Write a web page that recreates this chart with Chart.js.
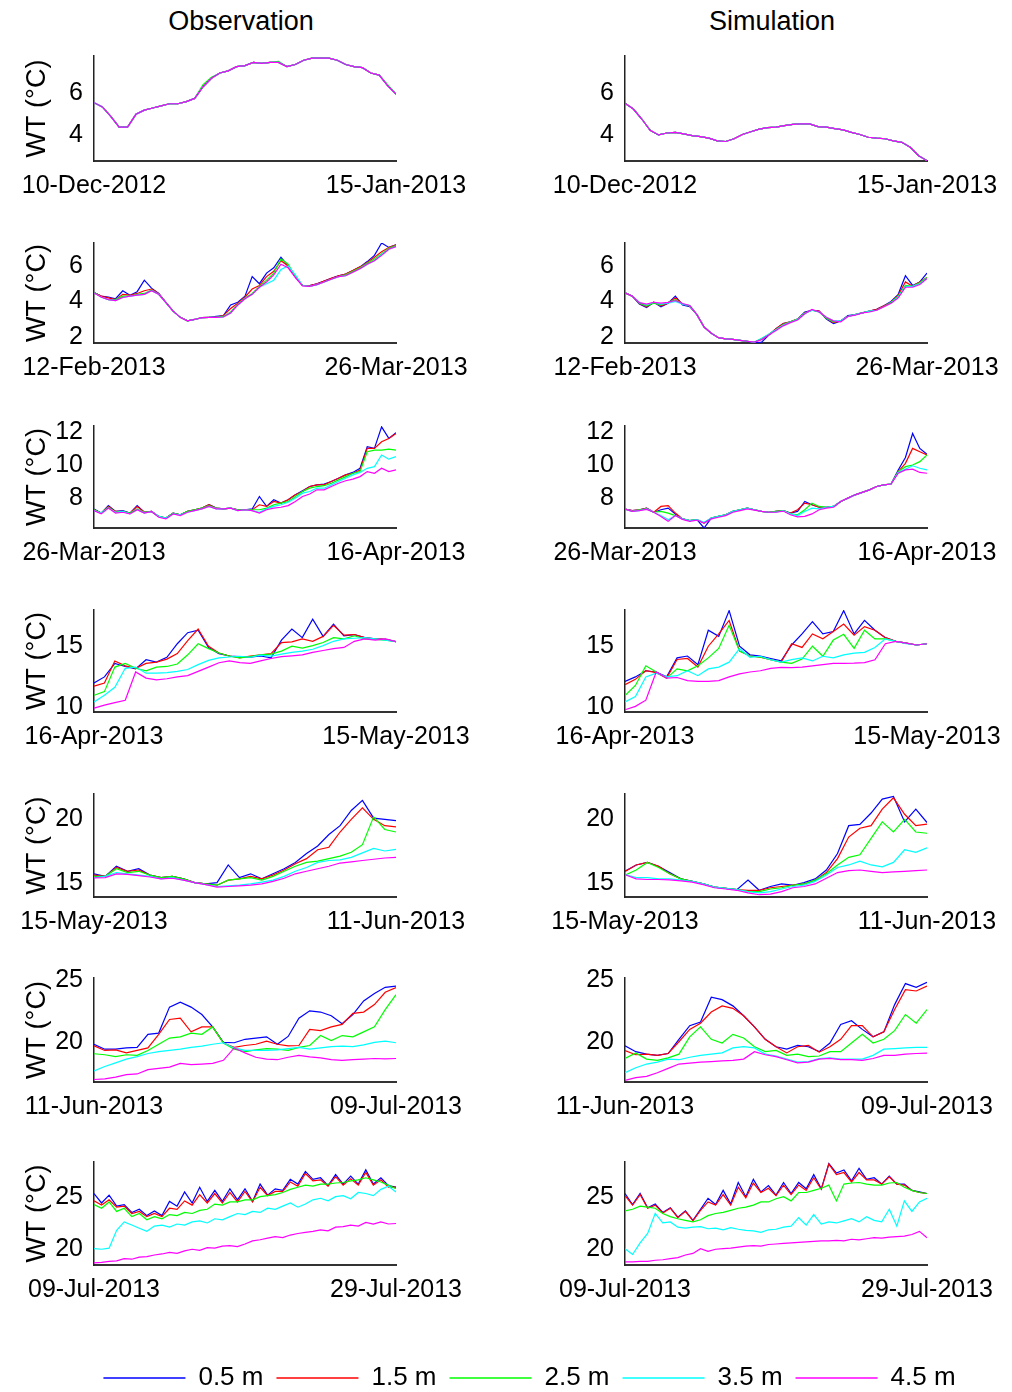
<!DOCTYPE html>
<html>
<head>
<meta charset="utf-8">
<script src="https://cdn.jsdelivr.net/npm/chart.js@4.4.0/dist/chart.umd.min.js"></script>
<style>
  body { margin: 0; background: #fff; width: 1012px; height: 1392px; position: relative; overflow: hidden; }
  .panel { position: absolute; }
  .coltitle { position: absolute; top: 6px; width: 240px; text-align: center; font: 27px 'Liberation Sans', Arial, sans-serif; line-height: 30px; color: #000; }
</style>
</head>
<body>
<div class="coltitle" style="left:121px;">Observation</div>
<div class="coltitle" style="left:652px;">Simulation</div>

<script>
const FONT = "'Liberation Sans', Arial, sans-serif";

// depth series
const depthLabels = ['0.5 m', '1.5 m', '2.5 m', '3.5 m', '4.5 m'];
const depthColors = ['#0000ff', '#ff0000', '#00ff00', '#00ffff', '#ff00ff'];

// x tick labels (first / last day of each row)
const startDates = ['10-Dec-2012', '12-Feb-2013', '26-Mar-2013', '16-Apr-2013', '15-May-2013', '11-Jun-2013', '09-Jul-2013'];
const endDates = ['15-Jan-2013', '26-Mar-2013', '16-Apr-2013', '15-May-2013', '11-Jun-2013', '09-Jul-2013', '29-Jul-2013'];

// y tick labels and axis ranges per row
const yTicks = [[4, 6], [2, 4, 6], [8, 10, 12], [10, 15], [15, 20], [20, 25], [20, 25]];
const yMins = [2.8, 1.65, 6.2, 9.64, 13.87, 16.75, 18.5];
const yMaxs = [7.75, 7.3, 12.35, 17.95, 22.0, 25.15, 28.3];

// ---- row 1 : 10-Dec-2012 .. 15-Jan-2013 (daily) ----
const obsDecJan = [5.55,5.35,4.9,4.4,4.4,5.0,5.2,5.3,5.4,5.5,5.5,5.6,5.75,6.3,6.7,6.95,7.05,7.25,7.3,7.45,7.4,7.45,7.45,7.25,7.35,7.55,7.65,7.65,7.65,7.55,7.35,7.25,7.2,6.95,6.85,6.35,5.95];
const obsDecJan25 = [5.55,5.35,4.9,4.4,4.4,5.0,5.2,5.3,5.4,5.5,5.5,5.6,5.75,6.4,6.75,6.95,7.05,7.25,7.3,7.45,7.4,7.45,7.5,7.25,7.35,7.55,7.65,7.65,7.65,7.55,7.35,7.25,7.2,6.95,6.85,6.4,5.95];
const simDecJan = [5.52,5.25,4.78,4.25,4.03,4.12,4.15,4.08,4.0,3.95,3.88,3.75,3.72,3.85,4.05,4.18,4.3,4.37,4.4,4.47,4.53,4.55,4.55,4.42,4.4,4.33,4.27,4.15,4.05,3.92,3.88,3.85,3.75,3.68,3.45,3.05,2.82];

// ---- row 2 : 12-Feb-2013 .. 26-Mar-2013 (daily) ----
const obsFebMar05 = [4.5,4.3,4.25,4.15,4.6,4.35,4.55,5.2,4.75,4.45,3.95,3.45,3.1,2.9,2.98,3.08,3.1,3.15,3.2,3.8,3.95,4.3,5.4,5.0,5.6,5.9,6.5,6.0,5.4,4.9,4.9,5.0,5.15,5.3,5.45,5.55,5.75,5.95,6.25,6.6,7.3,7.05,7.2];
const obsFebMar15 = [4.5,4.3,4.2,4.1,4.4,4.35,4.45,4.6,4.7,4.45,3.95,3.45,3.1,2.9,2.98,3.08,3.1,3.12,3.2,3.6,3.9,4.25,4.7,4.9,5.4,5.7,6.3,6.0,5.4,4.9,4.9,5.0,5.15,5.3,5.45,5.55,5.75,5.95,6.2,6.5,6.8,7.05,7.2];
const obsFebMar25 = [4.5,4.25,4.1,4.1,4.3,4.3,4.4,4.45,4.65,4.4,3.93,3.45,3.1,2.9,2.98,3.08,3.1,3.1,3.15,3.4,3.85,4.2,4.45,4.85,5.2,5.6,6.4,6.1,5.4,4.9,4.85,4.95,5.1,5.25,5.4,5.5,5.7,5.9,6.15,6.4,6.7,7.0,7.15];
const obsFebMar35 = [4.48,4.25,4.1,4.05,4.22,4.3,4.35,4.4,4.6,4.4,3.93,3.45,3.1,2.9,2.98,3.08,3.1,3.1,3.12,3.35,3.8,4.15,4.4,4.8,5.0,5.2,5.8,6.0,5.5,4.9,4.85,4.95,5.1,5.25,5.4,5.45,5.65,5.85,6.1,6.3,6.65,6.95,7.1];
const obsFebMar45 = [4.48,4.25,4.1,4.05,4.22,4.3,4.35,4.4,4.6,4.4,3.93,3.45,3.1,2.9,2.98,3.08,3.1,3.1,3.12,3.35,3.8,4.15,4.4,4.8,5.1,5.5,6.1,5.9,5.35,4.88,4.85,4.95,5.1,5.25,5.4,5.45,5.65,5.85,6.1,6.3,6.6,6.95,7.1];
const simFebMar05 = [4.48,4.3,3.85,3.65,3.95,3.7,3.9,4.3,3.8,3.7,3.25,2.55,2.2,1.95,1.88,1.85,1.8,1.75,1.65,1.7,2.1,2.45,2.75,2.85,3.0,3.4,3.5,3.45,3.0,2.75,2.9,3.2,3.25,3.35,3.45,3.55,3.75,4.0,4.4,5.45,4.9,5.1,5.6];
const simFebMar15 = [4.48,4.3,3.9,3.7,3.95,3.75,3.9,4.2,3.85,3.75,3.25,2.55,2.2,1.95,1.88,1.85,1.8,1.75,1.7,1.85,2.1,2.45,2.75,2.85,3.0,3.35,3.5,3.45,3.05,2.8,2.9,3.15,3.25,3.35,3.45,3.55,3.75,3.95,4.35,5.1,4.85,5.1,5.35];
const simFebMar25 = [4.48,4.3,3.9,3.75,3.9,3.8,3.95,4.1,3.85,3.75,3.25,2.55,2.2,1.95,1.88,1.85,1.8,1.75,1.7,1.9,2.15,2.4,2.7,2.85,3.0,3.35,3.5,3.4,3.05,2.85,2.9,3.15,3.25,3.35,3.45,3.5,3.7,3.95,4.3,4.9,4.85,5.05,5.35];
const simFebMar35 = [4.48,4.3,3.95,3.8,3.95,3.85,3.9,4.0,3.85,3.77,3.25,2.55,2.2,1.95,1.88,1.85,1.8,1.75,1.7,1.9,2.15,2.4,2.65,2.82,2.98,3.3,3.5,3.4,3.1,2.9,2.9,3.15,3.25,3.35,3.45,3.5,3.7,3.9,4.25,4.85,4.85,5.0,5.3];
const simFebMar45 = [4.48,4.3,3.93,3.85,3.95,3.9,3.95,4.05,3.88,3.77,3.25,2.55,2.2,1.95,1.88,1.85,1.8,1.75,1.7,1.85,2.1,2.35,2.62,2.8,2.95,3.3,3.55,3.4,3.1,2.9,2.85,3.15,3.22,3.35,3.4,3.5,3.7,3.9,4.2,4.8,4.8,4.95,5.3];

// ---- row 3 : 26-Mar-2013 .. 16-Apr-2013 (half-daily) ----
const obsMarApr05 = [7.35,7.1,7.55,7.2,7.25,7.1,7.55,7.15,7.2,6.9,6.8,7.1,7.0,7.2,7.3,7.4,7.6,7.4,7.35,7.4,7.3,7.3,7.35,8.1,7.5,7.9,7.7,7.9,8.2,8.45,8.7,8.8,8.85,9.0,9.2,9.4,9.55,9.8,11.1,11.0,12.3,11.6,11.95];
const obsMarApr15 = [7.3,7.1,7.5,7.2,7.2,7.1,7.5,7.15,7.2,6.9,6.8,7.1,7.0,7.2,7.3,7.4,7.6,7.4,7.35,7.4,7.3,7.3,7.3,7.6,7.5,7.8,7.7,7.9,8.2,8.4,8.7,8.8,8.8,9.0,9.2,9.4,9.5,9.7,11.0,11.0,11.4,11.6,11.9];
const obsMarApr25 = [7.3,7.1,7.45,7.15,7.2,7.1,7.35,7.15,7.2,6.9,6.8,7.1,7.0,7.2,7.3,7.4,7.55,7.4,7.35,7.4,7.3,7.3,7.3,7.3,7.4,7.6,7.7,7.8,8.1,8.4,8.6,8.7,8.75,8.9,9.1,9.3,9.5,9.6,10.8,10.9,10.9,10.95,10.9];
const obsMarApr35 = [7.25,7.1,7.4,7.15,7.2,7.05,7.3,7.1,7.2,6.9,6.8,7.05,7.0,7.15,7.25,7.35,7.5,7.35,7.35,7.4,7.25,7.3,7.25,7.15,7.35,7.5,7.6,7.75,8.0,8.3,8.4,8.6,8.6,8.8,9.0,9.2,9.4,9.55,9.8,9.9,10.6,10.35,10.5];
const obsMarApr45 = [7.25,7.05,7.4,7.1,7.15,7.05,7.3,7.1,7.2,6.85,6.75,7.05,6.95,7.15,7.25,7.35,7.5,7.35,7.35,7.4,7.25,7.3,7.25,7.1,7.3,7.4,7.45,7.55,7.8,8.1,8.25,8.5,8.5,8.7,8.9,9.05,9.15,9.3,9.6,9.5,9.8,9.6,9.7];
const simMarApr05 = [7.34,7.25,7.3,7.4,7.15,7.3,7.4,7.05,6.75,6.65,6.7,6.2,6.8,6.9,7.0,7.2,7.3,7.4,7.3,7.2,7.15,7.2,7.25,7.1,7.2,7.8,7.6,7.45,7.45,7.5,7.8,8.0,8.2,8.35,8.5,8.7,8.8,8.85,9.7,10.45,11.9,11.0,10.65];
const simMarApr15 = [7.34,7.25,7.3,7.4,7.15,7.5,7.55,7.1,6.75,6.65,6.7,6.5,6.8,6.9,7.0,7.2,7.3,7.4,7.3,7.2,7.15,7.2,7.25,7.1,7.3,7.7,7.6,7.45,7.45,7.5,7.8,8.0,8.2,8.35,8.5,8.7,8.8,8.85,9.6,10.1,11.0,10.8,10.6];
const simMarApr25 = [7.34,7.2,7.3,7.35,7.15,7.2,7.1,6.95,6.75,6.65,6.7,6.5,6.8,6.9,7.0,7.2,7.3,7.4,7.3,7.2,7.15,7.2,7.25,7.05,7.0,7.3,7.7,7.5,7.45,7.5,7.8,8.0,8.2,8.35,8.5,8.7,8.8,8.85,9.6,9.9,10.0,10.2,10.6];
const simMarApr35 = [7.34,7.2,7.25,7.35,7.15,6.95,6.7,6.95,6.75,6.65,6.7,6.55,6.8,6.9,7.0,7.2,7.3,7.4,7.3,7.2,7.15,7.15,7.25,7.05,6.95,7.2,7.4,7.35,7.45,7.5,7.8,8.0,8.2,8.35,8.5,8.7,8.8,8.85,9.55,9.75,9.95,9.8,9.7];
const simMarApr45 = [7.34,7.2,7.25,7.32,7.15,6.9,6.6,6.95,6.72,6.6,6.68,6.5,6.75,6.85,6.95,7.15,7.25,7.35,7.28,7.2,7.15,7.15,7.22,7.0,6.87,6.9,7.05,7.3,7.4,7.45,7.8,8.0,8.2,8.35,8.5,8.7,8.8,8.85,9.5,9.7,9.75,9.55,9.5];

// ---- row 4 : 16-Apr-2013 .. 15-May-2013 (daily) ----
const obsAprMay05 = [12.0,12.5,13.6,13.35,13.15,13.9,13.7,14.1,15.2,16.1,16.3,14.9,14.4,14.2,14.15,14.1,14.2,14.05,15.5,16.4,15.7,17.2,15.8,16.8,15.85,15.95,15.7,15.6,15.55,15.38];
const obsAprMay15 = [11.74,12.0,13.8,13.4,13.2,13.6,13.7,13.95,14.4,15.45,16.4,15.0,14.45,14.2,14.05,14.2,14.3,14.4,15.3,15.35,15.6,15.4,15.8,16.7,15.9,15.95,15.7,15.6,15.55,15.38];
const obsAprMay25 = [11.0,11.3,13.3,13.6,13.2,13.0,13.3,13.35,13.55,14.3,15.2,14.8,14.45,14.2,14.05,14.15,14.3,14.35,14.6,15.0,14.85,15.05,15.3,15.7,15.6,15.85,15.6,15.55,15.5,15.38];
const obsAprMay35 = [10.46,11.0,11.65,13.2,13.3,12.8,12.8,12.85,12.95,13.1,13.5,13.85,14.05,14.12,14.18,14.1,14.28,14.2,14.35,14.5,14.6,14.75,15.05,15.4,15.6,15.65,15.7,15.6,15.5,15.38];
const obsAprMay45 = [9.95,10.2,10.4,10.6,12.9,12.4,12.25,12.35,12.5,12.6,12.95,13.3,13.65,13.8,13.67,13.6,13.8,14.0,14.15,14.22,14.3,14.5,14.65,14.8,14.9,15.4,15.6,15.5,15.6,15.38];
const simAprMay05 = [12.13,12.5,13.0,12.9,12.5,14.05,14.2,13.5,16.3,15.8,17.9,15.0,14.3,14.2,14.0,13.8,15.1,16.0,17.0,16.0,16.2,17.9,16.0,17.1,16.3,15.7,15.4,15.25,15.1,15.2];
const simAprMay15 = [11.87,12.3,13.0,12.85,12.4,13.92,14.0,13.3,15.0,16.0,17.1,14.6,14.2,14.1,13.9,13.7,15.2,14.9,16.0,15.6,16.2,16.8,15.9,16.6,16.3,15.7,15.4,15.25,15.1,15.2];
const simAprMay25 = [10.97,11.8,13.4,12.9,12.4,13.15,13.0,13.4,14.05,14.82,16.7,14.6,14.2,14.1,13.9,13.7,13.6,13.95,15.0,14.18,15.5,15.97,14.82,16.3,15.6,15.6,15.4,15.25,15.1,15.2];
const simAprMay35 = [10.46,10.9,12.5,12.8,12.5,12.6,13.0,12.6,13.15,13.3,13.7,14.8,14.1,14.18,13.9,13.7,13.9,14.05,13.8,14.18,14.05,14.3,14.44,14.5,14.9,15.6,15.4,15.2,15.1,15.2];
const simAprMay45 = [9.82,10.1,10.6,12.9,12.4,12.45,12.2,12.13,12.13,12.2,12.5,12.75,12.9,13.0,13.2,13.28,13.25,13.3,13.4,13.5,13.6,13.6,13.62,13.67,13.9,15.2,15.4,15.25,15.1,15.2];

// ---- row 5 : 15-May-2013 .. 11-Jun-2013 (daily) ----
const obsMayJun05 = [15.7,15.5,16.3,15.9,16.1,15.6,15.4,15.5,15.3,15.0,14.9,15.0,16.4,15.4,15.7,15.3,15.7,16.1,16.6,17.3,17.9,18.8,19.5,20.7,21.5,20.1,20.0,19.9];
const obsMayJun15 = [15.6,15.5,16.2,15.9,16.0,15.6,15.4,15.5,15.3,15.0,14.9,14.8,15.2,15.3,15.5,15.3,15.6,16.0,16.5,16.9,17.6,17.8,19.0,20.0,20.9,20.0,19.5,19.4];
const obsMayJun25 = [15.5,15.5,16.1,15.8,15.9,15.6,15.4,15.5,15.3,15.0,14.9,14.8,15.2,15.3,15.4,15.2,15.5,15.9,16.3,16.6,16.7,16.9,17.1,17.4,18.0,20.2,19.2,19.0];
const obsMayJun35 = [15.4,15.5,15.8,15.7,15.6,15.5,15.3,15.4,15.2,15.0,14.85,14.7,14.75,14.8,14.9,15.05,15.2,15.5,15.9,16.2,16.6,16.75,16.8,17.0,17.35,17.7,17.5,17.63];
const obsMayJun45 = [15.38,15.4,15.7,15.65,15.55,15.45,15.3,15.35,15.2,15.0,14.85,14.65,14.7,14.75,14.8,14.9,15.1,15.35,15.7,15.9,16.1,16.3,16.55,16.65,16.75,16.85,16.95,17.0];
const simMayJun05 = [15.9,16.4,16.6,16.3,15.8,15.3,15.1,14.9,14.65,14.55,14.45,15.2,14.4,14.7,14.9,14.8,15.0,15.3,16.0,17.3,19.5,19.6,20.5,21.6,21.8,19.8,20.8,19.75];
const simMayJun15 = [15.88,16.4,16.6,16.3,15.7,15.3,15.1,14.9,14.65,14.55,14.45,14.4,14.4,14.6,14.7,14.8,14.9,15.2,15.8,16.9,18.6,19.3,19.5,20.8,21.7,20.4,19.5,19.63];
const simMayJun25 = [15.6,16.0,16.6,16.2,15.7,15.3,15.1,14.9,14.65,14.55,14.45,14.3,14.3,14.5,14.6,14.8,14.9,15.2,15.7,16.4,17.0,17.2,18.5,19.8,19.0,20.0,19.0,18.9];
const simMayJun35 = [15.63,15.4,15.4,15.3,15.3,15.2,15.1,14.9,14.65,14.55,14.45,14.3,14.2,14.3,14.5,14.7,14.8,15.1,15.6,16.2,16.4,16.7,16.4,16.25,16.6,17.6,17.4,17.75];
const simMayJun45 = [15.63,15.3,15.25,15.25,15.22,15.15,15.05,14.85,14.6,14.5,14.4,14.2,14.05,14.1,14.3,14.6,14.7,14.9,15.35,15.8,15.95,16.0,15.9,15.8,15.85,15.9,15.95,16.0];

// ---- row 6 : 11-Jun-2013 .. 09-Jul-2013 (daily) ----
const obsJunJul05 = [19.8,19.4,19.4,19.5,19.55,20.6,20.7,22.8,23.2,22.8,22.2,21.2,19.95,19.92,20.2,20.3,20.4,19.8,20.43,21.9,22.5,22.4,22.1,21.45,22.2,23.3,23.9,24.4,24.5];
const obsJunJul15 = [19.67,19.3,19.35,19.1,19.3,19.5,20.6,21.8,21.9,20.8,21.2,21.2,19.9,19.55,19.7,19.8,20.05,19.8,19.67,19.7,21.0,20.9,21.2,21.4,22.3,22.4,23.0,24.0,24.37];
const obsJunJul25 = [19.03,18.95,18.8,18.95,18.9,19.3,19.8,20.3,20.4,20.7,20.6,21.2,19.9,19.4,19.2,19.35,19.45,19.4,19.3,19.55,19.7,20.5,20.1,20.5,20.4,20.8,21.2,22.6,23.8];
const obsJunJul35 = [17.64,18.0,18.3,18.6,18.8,19.05,19.2,19.3,19.4,19.55,19.65,19.8,19.92,19.5,19.3,19.3,19.3,19.35,19.45,19.55,19.4,19.5,19.6,19.65,19.6,19.75,19.95,20.05,19.92];
const obsJunJul45 = [16.95,17.0,17.15,17.35,17.4,17.75,17.85,17.95,18.25,18.15,18.2,18.25,18.5,19.5,19.1,18.75,18.6,18.55,18.75,18.9,18.78,18.7,18.55,18.5,18.55,18.6,18.65,18.62,18.65];
const simJunJul05 = [19.67,19.2,19.0,18.9,19.05,20.2,21.3,21.6,23.6,23.4,22.9,22.1,21.2,20.2,19.6,19.4,19.7,19.6,19.2,19.9,21.4,21.7,21.0,20.4,20.8,23.0,24.7,24.4,24.8];
const simJunJul15 = [19.29,18.95,19.0,18.9,19.05,20.0,21.0,21.5,22.4,22.9,22.7,22.1,21.2,20.2,19.6,19.1,19.6,19.7,19.16,19.6,20.2,21.3,21.3,20.4,20.8,22.6,24.2,24.1,24.5];
const simJunJul25 = [18.65,19.1,18.6,18.5,18.7,19.0,20.4,21.2,20.2,19.9,20.6,20.3,19.6,19.2,19.3,18.9,19.0,18.8,18.85,19.2,19.2,19.9,20.6,19.9,20.2,20.9,22.2,21.5,22.6];
const simJunJul35 = [17.5,17.9,18.2,18.35,18.6,18.55,18.75,18.9,19.0,19.1,19.5,19.6,19.5,19.0,18.85,18.6,18.35,18.4,18.65,18.7,18.6,18.6,18.6,18.9,19.4,19.45,19.5,19.55,19.54];
const simJunJul45 = [16.88,17.1,17.2,17.5,17.85,18.2,18.27,18.35,18.4,18.45,18.5,18.6,19.2,18.95,18.8,18.55,18.3,18.35,18.6,18.65,18.55,18.55,18.5,18.65,18.9,18.9,19.0,19.05,19.08];

// ---- row 7 : 09-Jul-2013 .. 29-Jul-2013 (half-daily) ----
const obsJul05 = [25.3,24.4,25.15,24.1,24.25,23.5,23.8,23.2,23.65,23.2,24.55,24.1,25.45,24.4,25.9,24.55,25.6,24.55,25.75,24.7,25.75,24.55,26.2,25.15,25.75,25.6,26.65,26.2,27.4,26.65,26.8,26.05,27.1,26.2,26.95,26.2,27.55,26.2,26.8,26.05,25.9];
const obsJul15 = [24.6,24.2,24.7,24.0,24.1,23.4,23.6,23.1,23.4,23.1,23.9,23.8,24.6,24.2,25.2,24.4,25.3,24.4,25.4,24.5,25.5,24.5,25.9,25.1,25.5,25.5,26.4,26.0,27.2,26.5,26.6,26.0,26.9,26.1,26.7,26.1,27.3,26.1,26.6,25.9,25.9];
const obsJul25 = [24.25,23.9,24.5,23.6,23.9,23.1,23.4,22.8,23.1,22.9,23.3,23.2,23.5,23.4,23.7,23.8,24.3,24.2,24.5,24.5,24.7,24.7,25.0,25.1,25.2,25.4,25.7,25.9,26.1,26.0,26.2,26.2,26.3,26.35,26.5,26.6,26.8,26.6,26.4,26.1,25.75];
const obsJul35 = [20.06,20.0,20.1,21.8,22.6,22.3,22.0,21.7,22.2,22.3,22.1,22.4,22.3,22.6,22.7,22.5,22.9,22.8,23.1,23.4,23.3,23.6,23.5,23.9,23.8,24.1,24.4,24.0,24.3,24.7,24.85,24.6,25.0,25.1,24.8,25.4,25.3,25.1,25.7,26.0,25.45];
const obsJul45 = [18.7,18.75,18.85,18.9,19.1,19.05,19.25,19.3,19.45,19.55,19.7,19.6,19.85,20.0,19.9,20.15,20.1,20.3,20.35,20.25,20.5,20.8,20.9,21.05,21.2,21.1,21.35,21.5,21.6,21.7,21.85,21.75,22.1,22.15,22.3,22.2,22.55,22.4,22.6,22.4,22.45];
const simJul05 = [25.3,24.25,25.3,23.95,24.3,23.5,23.95,23.05,23.65,22.75,23.8,24.85,24.25,25.6,24.3,26.35,25.0,26.65,25.45,26.05,25.15,26.35,25.3,26.35,25.75,27.1,25.75,28.15,27.25,27.55,26.5,27.7,26.65,26.8,26.2,26.95,26.2,26.2,25.6,25.45,25.3];
const simJul15 = [25.1,24.2,25.2,23.9,24.2,23.45,23.9,23.0,23.6,22.7,23.7,24.5,24.2,25.2,24.2,25.9,24.9,26.3,25.4,25.8,25.1,26.1,25.2,26.1,25.6,26.8,25.7,28.1,27.1,27.3,26.4,27.3,26.6,26.6,26.2,26.9,26.2,26.1,25.6,25.4,25.3];
const simJul25 = [23.65,23.8,24.1,24.0,23.9,23.4,23.1,22.9,22.75,22.6,22.8,23.2,23.4,23.5,23.7,23.9,24.0,24.2,24.5,24.5,24.8,25.0,24.6,25.4,25.4,25.6,25.8,26.1,24.6,26.2,26.3,26.35,26.2,26.1,26.1,26.3,26.35,25.9,25.6,25.4,25.3];
const simJul35 = [20.05,19.5,20.6,21.5,23.4,22.5,22.6,22.1,22.0,22.1,22.15,21.95,22.0,21.85,22.05,21.9,21.8,21.75,21.6,21.85,21.9,22.1,22.2,23.0,22.3,23.3,22.4,22.6,22.5,22.7,22.9,22.6,23.1,22.75,22.6,23.8,22.2,24.6,23.6,24.5,24.85];
const simJul45 = [18.8,18.8,18.85,18.85,18.95,19.0,19.1,19.2,19.45,19.6,20.05,19.8,20.0,20.05,20.1,20.2,20.3,20.35,20.3,20.45,20.5,20.55,20.6,20.65,20.7,20.75,20.8,20.8,20.85,20.8,20.95,20.9,21.0,21.1,21.05,21.15,21.2,21.25,21.4,21.7,21.1];

// series per row, depths 0.5 .. 4.5 m
const obsRows = [
  [obsDecJan, obsDecJan, obsDecJan25, obsDecJan, obsDecJan],
  [obsFebMar05, obsFebMar15, obsFebMar25, obsFebMar35, obsFebMar45],
  [obsMarApr05, obsMarApr15, obsMarApr25, obsMarApr35, obsMarApr45],
  [obsAprMay05, obsAprMay15, obsAprMay25, obsAprMay35, obsAprMay45],
  [obsMayJun05, obsMayJun15, obsMayJun25, obsMayJun35, obsMayJun45],
  [obsJunJul05, obsJunJul15, obsJunJul25, obsJunJul35, obsJunJul45],
  [obsJul05, obsJul15, obsJul25, obsJul35, obsJul45]
];
const simRows = [
  [simDecJan, simDecJan, simDecJan, simDecJan, simDecJan],
  [simFebMar05, simFebMar15, simFebMar25, simFebMar35, simFebMar45],
  [simMarApr05, simMarApr15, simMarApr25, simMarApr35, simMarApr45],
  [simAprMay05, simAprMay15, simAprMay25, simAprMay35, simAprMay45],
  [simMayJun05, simMayJun15, simMayJun25, simMayJun35, simMayJun45],
  [simJunJul05, simJunJul15, simJunJul25, simJunJul35, simJunJul45],
  [simJul05, simJul15, simJul25, simJul35, simJul45]
];

// page layout (pixels)
const rowTops = [50, 237, 420, 604, 788, 972, 1156];
const rowBottoms = [161, 343, 528, 712, 897, 1082, 1265];
const PAD_TOP = 20;
const XAXIS_H = 48;

function makePanel(col, row, series) {
  const plotH = rowBottoms[row] - rowTops[row];
  const div = document.createElement('div');
  div.className = 'panel';
  div.style.left = (col * 506) + 'px';
  div.style.top = (rowTops[row] - PAD_TOP) + 'px';
  const canvas = document.createElement('canvas');
  canvas.width = 506;
  canvas.height = PAD_TOP + plotH + XAXIS_H;
  div.appendChild(canvas);
  document.body.appendChild(div);

  const n = series[0].length;
  new Chart(canvas, {
    type: 'line',
    data: {
      datasets: series.map((arr, k) => ({
        label: depthLabels[k],
        data: arr.map((v, i) => ({ x: i, y: v })),
        borderColor: depthColors[k],
        borderWidth: 1.2,
        pointRadius: 0,
        tension: 0,
        order: 4 - k
      }))
    },
    options: {
      responsive: false,
      animation: false,
      events: [],
      layout: { padding: { left: 0, right: col === 0 ? 110 : 85, top: PAD_TOP, bottom: 0 } },
      plugins: { legend: { display: false }, tooltip: { enabled: false } },
      scales: {
        x: {
          type: 'linear',
          min: 0,
          max: n - 1,
          grid: { display: false, drawTicks: false },
          border: { display: true, color: '#333', width: 2 },
          afterBuildTicks: s => { s.ticks = [{ value: 0 }, { value: n - 1 }]; },
          afterFit: s => { s.height = XAXIS_H; },
          ticks: {
            autoSkip: false, maxRotation: 0, padding: 10, color: '#000',
            font: { family: FONT, size: 25 },
            callback: (v, i) => i === 0 ? startDates[row] : endDates[row]
          }
        },
        y: {
          min: yMins[row],
          max: yMaxs[row],
          grid: { display: false, drawTicks: false },
          border: { display: true, color: '#222', width: 1.5 },
          afterBuildTicks: s => { s.ticks = yTicks[row].map(v => ({ value: v })); },
          afterFit: s => { s.width = col === 0 ? 94 : 119; },
          ticks: { padding: 11, color: '#000', font: { family: FONT, size: 25 } },
          title: {
            display: col === 0, text: 'WT (°C)', color: '#000',
            font: { family: FONT, size: 27 }, padding: { top: 21, bottom: 0 }
          }
        }
      }
    }
  });
}

for (let r = 0; r < 7; r++) {
  makePanel(0, r, obsRows[r]);
  makePanel(1, r, simRows[r]);
}

// shared legend
function makeLegend() {
  const div = document.createElement('div');
  div.className = 'panel';
  div.style.left = '47px';
  div.style.top = '1352px';
  const canvas = document.createElement('canvas');
  canvas.width = 965;
  canvas.height = 100;
  div.appendChild(canvas);
  document.body.appendChild(div);
  new Chart(canvas, {
    type: 'line',
    data: {
      datasets: depthLabels.map((label, k) => ({
        label: label, data: [], borderColor: depthColors[k], backgroundColor: depthColors[k], borderWidth: 1.5
      }))
    },
    options: {
      responsive: false,
      animation: false,
      events: [],
      scales: { x: { display: false }, y: { display: false } },
      plugins: {
        tooltip: { enabled: false },
        legend: {
          display: true,
          position: 'top',
          labels: {
            usePointStyle: true, pointStyle: 'line', pointStyleWidth: 82,
            padding: 13, color: '#000', font: { family: FONT, size: 26 }
          }
        }
      }
    }
  });
}
makeLegend();
</script>
</body>
</html>
